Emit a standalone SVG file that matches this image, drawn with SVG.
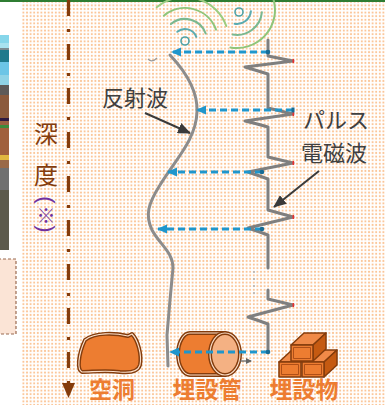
<svg xmlns="http://www.w3.org/2000/svg" width="385" height="405" viewBox="0 0 385 405">
  <defs>
    <pattern id="dots" width="3.6" height="3.6" patternUnits="userSpaceOnUse">
      <circle cx="1.8" cy="1.8" r="1.05" fill="#fbc393"/>
    </pattern>
    <marker id="bh" markerUnits="userSpaceOnUse" markerWidth="10" markerHeight="10" viewBox="0 0 10 10" refX="9" refY="5" orient="auto">
      <path d="M0,0.5 L10,5 L0,9.5 Z" fill="#1f96cc"/>
    </marker>
    <marker id="kh" markerUnits="userSpaceOnUse" markerWidth="13" markerHeight="11" viewBox="0 0 13 11" refX="12" refY="5.5" orient="auto">
      <path d="M0,0 L13,5.5 L0,11 Z" fill="#3a3a3a"/>
    </marker>
    <marker id="sh" markerUnits="userSpaceOnUse" markerWidth="6" markerHeight="6" viewBox="0 0 6 6" refX="5" refY="3" orient="auto">
      <path d="M0,0 L6,3 L0,6 Z" fill="#666"/>
    </marker>
  </defs>
  <style>
    .cjk{font-family:"Noto Sans CJK JP","Noto Sans CJK SC",sans-serif}
    .dark{fill:#404040;font-size:22px}
    .obj{fill:#ed7d31;font-size:23px;font-weight:bold;text-anchor:middle}
    .depth{fill:#843c0c;font-size:24px;text-anchor:middle}
    .ray{stroke:#1f96cc;stroke-width:3;stroke-dasharray:7 4;fill:none;marker-end:url(#bh)}
    .ptr{stroke:#3a3a3a;stroke-width:2;fill:none;marker-end:url(#kh)}
    .dot{fill:#176c96}
    .wave{fill:none;stroke-width:2;stroke-linecap:round}
    .edge{stroke:#843c0c;stroke-width:1.5;stroke-linejoin:round}
  </style>

  <!-- page background -->
  <rect x="0" y="0" width="385" height="405" fill="#ffffff"/>
  <rect x="22" y="2" width="363" height="403" fill="url(#dots)"/>
  <rect x="0" y="0" width="385" height="2" fill="#2f7d32"/>

  <!-- strip of soil layers at the left edge -->
  <g id="strip">
    <rect x="0" y="35" width="9" height="8" fill="#86d6ea"/>
    <rect x="0" y="43" width="9" height="5" fill="#a8e2ef"/>
    <rect x="0" y="48" width="9" height="2" fill="#7a8a90"/>
    <rect x="0" y="50" width="9" height="12" fill="#1f7a8c"/>
    <rect x="0" y="62" width="9" height="13" fill="#6cc5e6"/>
    <rect x="0" y="75" width="9" height="10" fill="#8fd3e6"/>
    <rect x="0" y="85" width="9" height="10" fill="#5d5a58"/>
    <rect x="0" y="95" width="9" height="23" fill="#8b5a3c"/>
    <rect x="0" y="118" width="9" height="3" fill="#2e1a40"/>
    <rect x="0" y="121" width="9" height="4" fill="#9a6040"/>
    <rect x="0" y="125" width="9" height="3" fill="#3c8c3c"/>
    <rect x="0" y="128" width="9" height="27" fill="#a0603c"/>
    <rect x="0" y="155" width="9" height="5" fill="#e0b840"/>
    <rect x="0" y="160" width="9" height="8" fill="#9a6a48"/>
    <rect x="0" y="168" width="9" height="22" fill="#707070"/>
    <rect x="0" y="190" width="9" height="60" fill="#5c5a4c"/>
  </g>
  <rect id="notebox" x="-2" y="259" width="18" height="75" fill="#fbe4d6" stroke="#9a6a50" stroke-width="1.2" stroke-dasharray="3 2"/>

  <!-- depth axis -->
  <g id="depth">
    <line x1="68.5" y1="0" x2="68.5" y2="383" stroke="#843c0c" stroke-width="3.2" stroke-dasharray="16 13 3 12"/>
    <path d="M62,383 L75,383 L68.5,398 Z" fill="#843c0c"/>
    <text class="cjk depth" x="46" y="143">深</text>
    <text class="cjk depth" x="46" y="184">度</text>
    <text x="46" y="207" font-family="Liberation Sans" font-size="22" fill="#7030a0" text-anchor="middle" transform="rotate(90 46 200)">(</text>
    <text class="cjk" x="46" y="223" font-size="19" fill="#7030a0" text-anchor="middle">※</text>
    <text x="46" y="236" font-family="Liberation Sans" font-size="22" fill="#7030a0" text-anchor="middle" transform="rotate(90 46 229)">)</text>
  </g>

  <!-- radar antenna signal -->
  <g id="signal">
    <circle cx="185" cy="41" r="4" fill="none" stroke="#4ea3a8" stroke-width="1.6"/>
    <path class="wave" stroke="#5aabb0" d="M177.3,31.8 A12,12 0 0 1 196.3,36.9"/>
    <path class="wave" stroke="#7ab890" d="M170.9,24.1 A22,22 0 0 1 205.7,33.5"/>
    <path class="wave" stroke="#8fc57a" d="M163.8,15.7 A33,33 0 0 1 216.0,29.7"/>
    <path class="wave" stroke="#9ccc80" d="M156.7,7.3 A44,44 0 0 1 226.3,26.0"/>
    <circle cx="239" cy="12" r="4" fill="none" stroke="#4ea3a8" stroke-width="1.6"/>
    <path class="wave" stroke="#5aabb0" d="M250.9,11.2 A14,14 0 0 1 234.6,23.8"/>
    <path class="wave" stroke="#7ab890" d="M261.9,12.2 A25,25 0 0 1 232.7,34.6"/>
    <path class="wave" stroke="#8fc57a" d="M273.7,0.2 A38,38 0 0 1 230.4,47.4"/>
    <path d="M148,59 Q152,63 157,58" fill="none" stroke="#9a9a9a" stroke-width="1.2"/>
  </g>

  <!-- reflected wave -->
  <path id="reflected" d="M170,55 C186,72 198,92 197,112 C196,140 175,160 160,185 C148,204 145,215 152,230 C160,245 173,252 173,268 L170,300 L167,335 L168,366" fill="none" stroke="#8c8c8c" stroke-width="3" stroke-linecap="round"/>

  <!-- transmitted pulse -->
  <g id="pulse">
    <path d="M268,40 L268,56 L293,61 L245,67 Q258,71 268,74 L268,108 L293,114 L245,121 Q258,124 268,127 L268,157 L293,163 L248,172 Q260,176 268,179 L268,210 L293,217 L248,228 Q260,232 268,235 L268,268 M268,290 L268,299 L293,305 L248,317 Q260,321 268,324 L268,352" fill="none" stroke="#7f7f7f" stroke-width="3" stroke-linejoin="round" stroke-linecap="round"/>
    <g fill="#e83030">
      <rect x="292.5" y="59" width="1.6" height="4"/>
      <rect x="292.5" y="112" width="1.6" height="4"/>
      <rect x="292.5" y="161" width="1.6" height="4"/>
      <rect x="292.5" y="215" width="1.6" height="4"/>
      <rect x="292.5" y="303" width="1.6" height="4"/>
    </g>
    <g fill="#a8b0b8">
      <circle cx="254" cy="272" r="0.9"/>
      <circle cx="254" cy="279" r="0.9"/>
      <circle cx="254" cy="286" r="0.9"/>
      <circle cx="254" cy="293" r="0.9"/>
    </g>
  </g>

  <!-- cavity -->
  <g id="cavity">
    <path d="M85,340 C95,332 115,333 128,336 L132,334 C138,340 142,355 140,365 C138,372 130,373 120,372 C105,370 92,372 82,372 C77,370 78,355 85,340 Z" fill="#ed7d31" stroke="#843c0c" stroke-width="4" stroke-linejoin="round"/>
    <path d="M85,340 C95,332 115,333 128,336 L132,334 C138,340 142,355 140,365 C138,372 130,373 120,372 C105,370 92,372 82,372 C77,370 78,355 85,340 Z" fill="none" stroke="#fbe0cc" stroke-width="1.1" stroke-linejoin="round"/>
    <text class="cjk obj" x="112" y="398">空洞</text>
  </g>

  <!-- buried pipe -->
  <g id="pipe">
    <path d="M225,333 L190,333 A12,21 0 0 0 190,375 L225,375 Z" fill="#ed7d31" stroke="#843c0c" stroke-width="4" stroke-linejoin="round"/>
    <path d="M225,333 L190,333 A12,21 0 0 0 190,375 L225,375" fill="none" stroke="#fbe0cc" stroke-width="1.1"/>
    <ellipse cx="225" cy="354" rx="15" ry="21" fill="#f4b183" stroke="#843c0c" stroke-width="4"/>
    <ellipse cx="225" cy="354" rx="15" ry="21" fill="none" stroke="#fbe0cc" stroke-width="1.1"/>
    <line x1="240" y1="361" x2="251" y2="361" stroke="#666" stroke-width="1.3" marker-end="url(#sh)"/>
    <text class="cjk obj" x="207" y="398">埋設管</text>
  </g>

  <!-- buried objects (bricks) -->
  <g id="bricks" class="edge">
    <polygon points="279,362 292,350 314,350 301,362" fill="#f08a48"/>
    <rect x="279" y="362" width="22" height="15" fill="#ed7d31"/>
    <rect x="281.5" y="364.5" width="17" height="10" fill="none" stroke="#a84a14" stroke-width="0.9"/>
    <polygon points="302,362 315,350 337,350 324,362" fill="#f08a48"/>
    <polygon points="324,362 337,350 337,365 324,377" fill="#c55a11"/>
    <rect x="302" y="362" width="22" height="15" fill="#ed7d31"/>
    <rect x="304.5" y="364.5" width="17" height="10" fill="none" stroke="#a84a14" stroke-width="0.9"/>
    <polygon points="291,345 304,333 326,333 313,345" fill="#f08a48"/>
    <polygon points="313,345 326,333 326,349 313,361" fill="#c55a11"/>
    <rect x="291" y="345" width="22" height="16" fill="#ed7d31"/>
    <rect x="293.5" y="347.5" width="17" height="11" fill="none" stroke="#a84a14" stroke-width="0.9"/>
    <text class="cjk obj" x="304" y="398" stroke="none">埋設物</text>
  </g>

  <!-- echo rays from the pulse back to the reflected wave -->
  <g id="rays">
    <path class="ray" d="M268,52 L172,52"/>
    <path class="ray" d="M293,110 L197,110"/>
    <path class="ray" d="M262,172 L168,172"/>
    <path class="ray" d="M262,229 L158,229"/>
    <path class="ray" d="M268,352 L170,352"/>
    <circle class="dot" cx="268" cy="52" r="2.3"/>
    <rect class="dot" x="291.5" y="107.5" width="3" height="5"/>
    <circle class="dot" cx="262" cy="172" r="2.3"/>
    <circle class="dot" cx="262" cy="229" r="2.3"/>
    <circle class="dot" cx="268" cy="352" r="2.3"/>
  </g>

  <!-- labels -->
  <g id="label-reflected">
    <text class="cjk dark" x="102" y="106" font-size="24">反射波</text>
    <path class="ptr" d="M145,113 L190,133"/>
  </g>
  <g id="label-pulse">
    <text class="cjk dark" x="303" y="128">パルス</text>
    <text class="cjk dark" x="301" y="161">電磁波</text>
    <path class="ptr" d="M319,171 L274,207"/>
  </g>
</svg>
